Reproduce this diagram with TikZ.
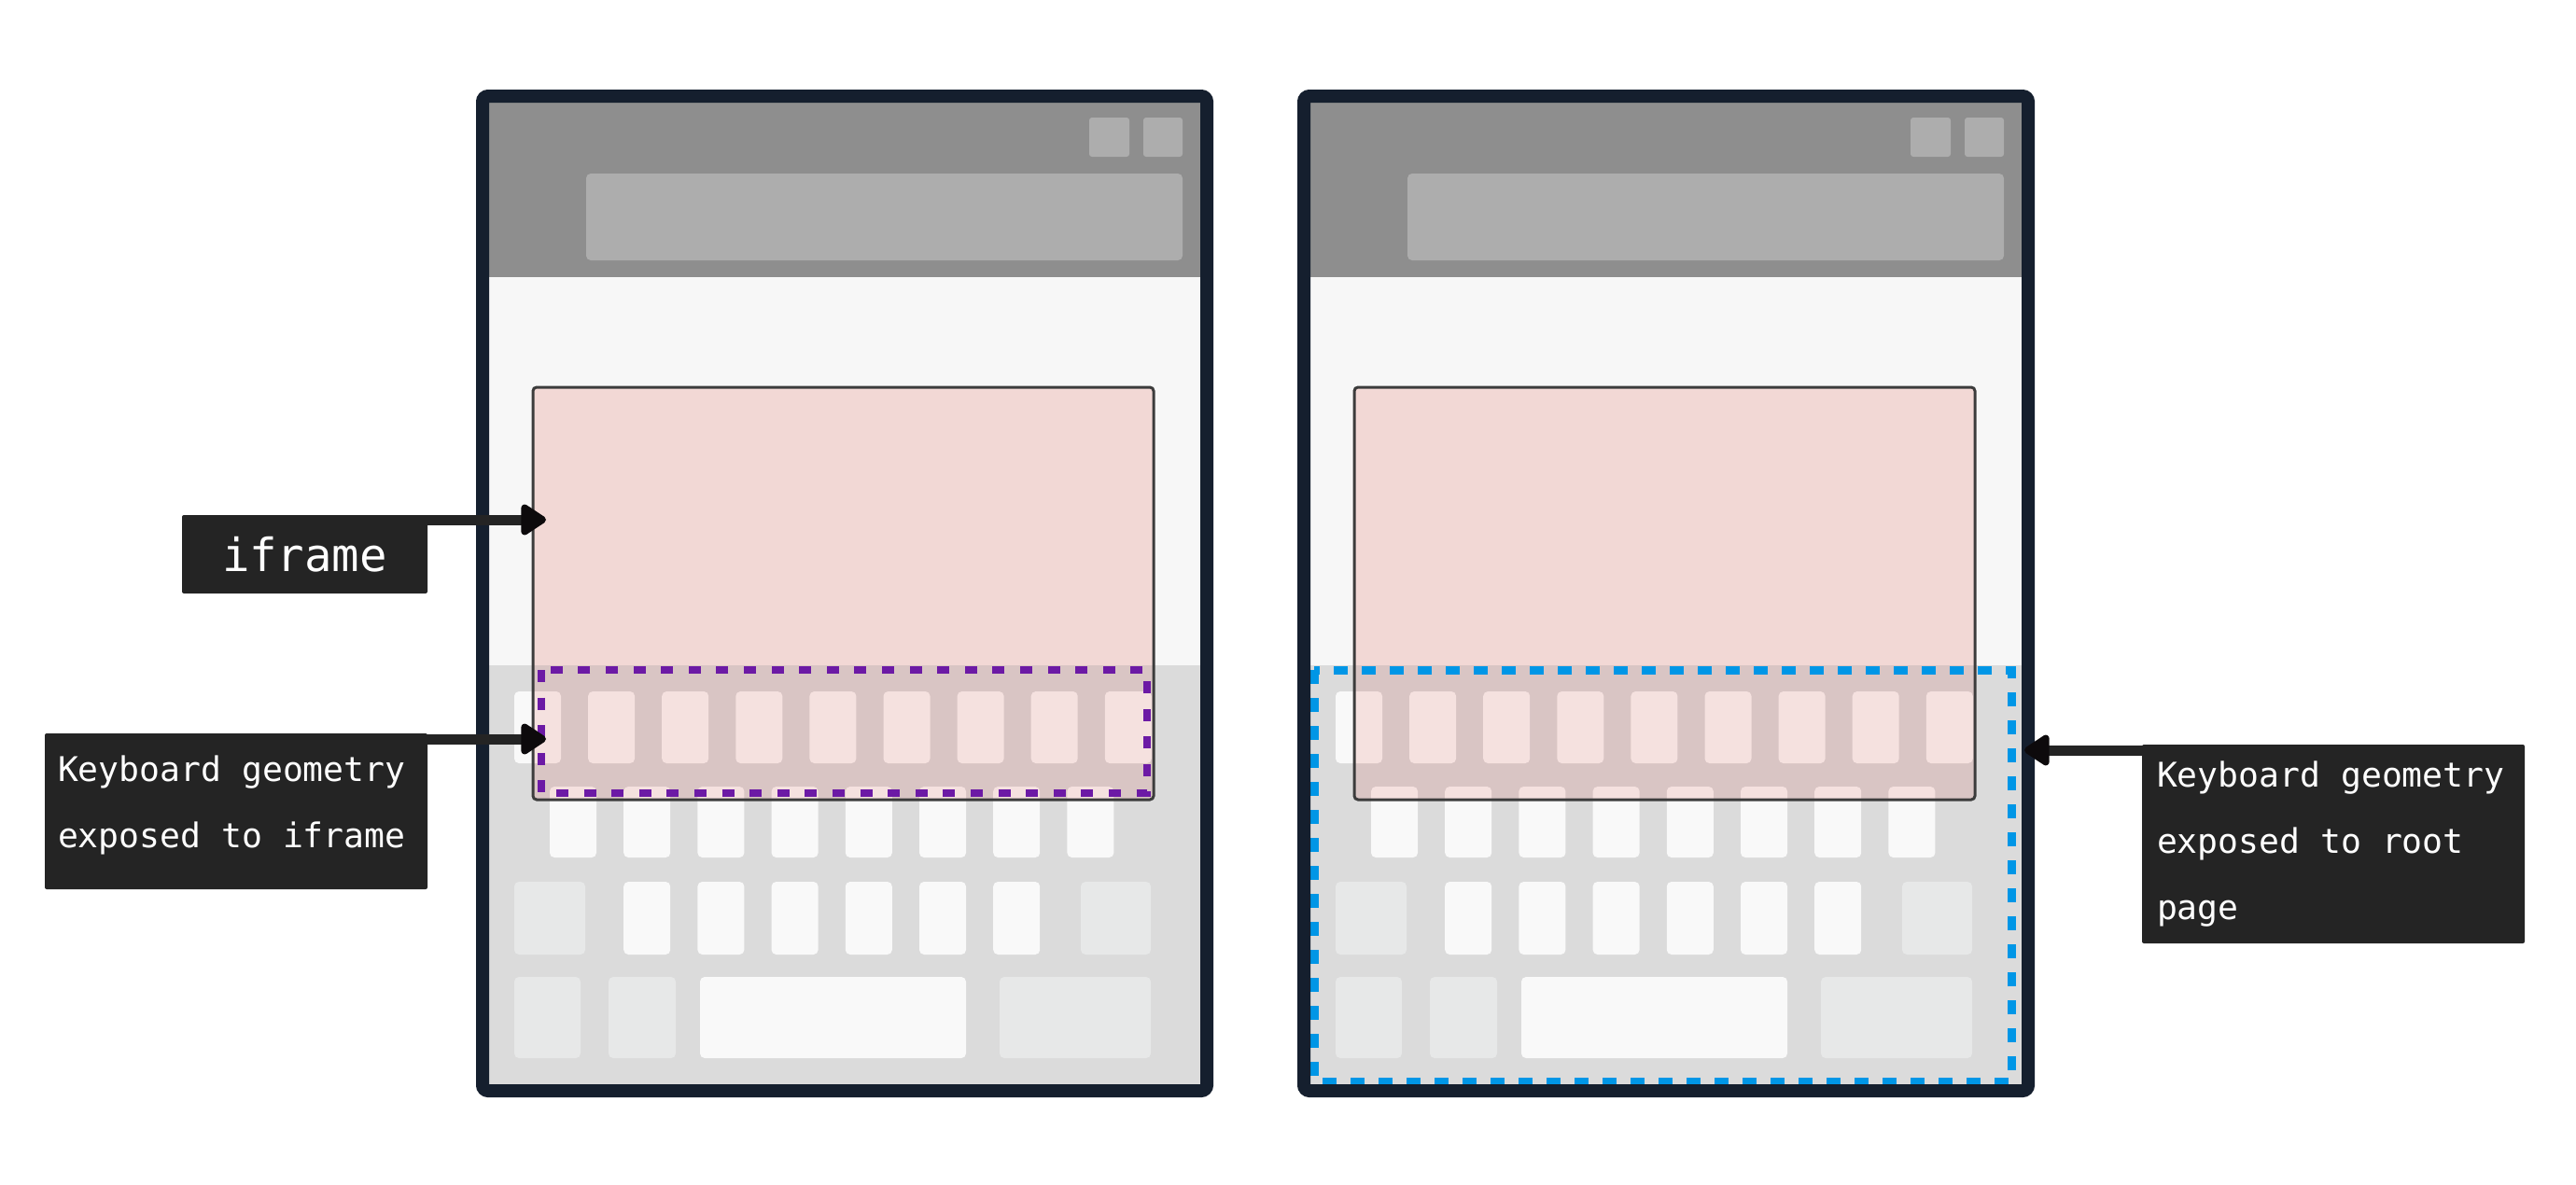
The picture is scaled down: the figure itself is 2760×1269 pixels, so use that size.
\documentclass[tikz,border=0pt]{standalone}
\usepackage{fontspec}
\newfontfamily\tagfont{DejaVu Sans Mono}
\usetikzlibrary{arrows.meta}

\definecolor{framec}{RGB}{21,31,46}
\definecolor{topbarc}{RGB}{142,142,142}
\definecolor{btnc}{RGB}{173,173,173}
\definecolor{pagec}{RGB}{247,247,247}
\definecolor{kbdc}{RGB}{219,219,219}
\definecolor{keywc}{RGB}{249,249,249}
\definecolor{keygc}{RGB}{231,232,232}
\definecolor{pinkc}{RGB}{242,216,213}
\definecolor{ovbgc}{RGB}{217,197,196}
\definecolor{ovkeyc}{RGB}{245,225,223}
\definecolor{iborderc}{RGB}{60,60,60}
\definecolor{purplec}{RGB}{108,26,165}
\definecolor{bluec}{RGB}{0,150,230}
\definecolor{tagc}{RGB}{36,36,36}
\definecolor{tipc}{RGB}{13,10,12}

\begin{document}
\begin{tikzpicture}[x=0.5pt,y=-0.5pt,
  wkey/.style={fill=keywc,rounded corners=2.5pt},
  gkey/.style={fill=keygc,rounded corners=2.5pt},
  okey/.style={fill=ovkeyc,rounded corners=2.5pt},
  iframebox/.style={draw=iborderc,line width=1.5pt,rounded corners=2pt,
    minimum width=332.5pt,minimum height=221pt,inner sep=0pt,outer sep=0pt},
  phoneframe/.style={draw=framec,line width=7pt,rounded corners=3pt},
  tagbox/.style={fill=tagc,text=white,rounded corners=1pt,inner ysep=0pt,
    outer sep=0pt,font=\tagfont},
  pointer/.style={draw=tagc,line width=5.5pt,
    -{Triangle[length=15pt,width=18.5pt,round,color=tipc]}}]

\useasboundingbox (0,0) rectangle (2760,1269);
\fill[white] (0,0) rectangle (2760,1269);

\foreach \ph/\ox in {L/0,R/880}{
  % browser chrome
  \fill[topbarc] (524+\ox,108) rectangle (1286+\ox,297);
  \fill[btnc,rounded corners=1.5pt] (1167+\ox,126) rectangle (1210+\ox,168);
  \fill[btnc,rounded corners=1.5pt] (1225+\ox,126) rectangle (1267+\ox,168);
  \fill[btnc,rounded corners=2.5pt] (628+\ox,186) rectangle (1267+\ox,279);
  % page and keyboard
  \fill[pagec] (524+\ox,297) rectangle (1286+\ox,713);
  \fill[kbdc] (524+\ox,713) rectangle (1286+\ox,1162);
  \foreach \i in {0,...,8}
    \fill[wkey] ({551+79.1*\i+\ox},741) rectangle ++(50,77);
  \foreach \i in {0,...,7}
    \fill[wkey] ({589+79.2*\i+\ox},843) rectangle ++(50,76);
  \fill[gkey] (551+\ox,945) rectangle (627+\ox,1023);
  \foreach \i in {1,...,6}
    \fill[wkey] ({589+79.2*\i+\ox},945) rectangle ++(50,78);
  \fill[gkey] (1158+\ox,945) rectangle (1233+\ox,1023);
  \fill[gkey] (551+\ox,1047) rectangle (622+\ox,1134);
  \fill[gkey] (652+\ox,1047) rectangle (724+\ox,1134);
  \fill[wkey] (750+\ox,1047) rectangle (1035+\ox,1134);
  \fill[gkey] (1071+\ox,1047) rectangle (1233+\ox,1134);
  % iframe, tinted where it overlaps the keyboard
  \fill[pinkc] (571+\ox,415) rectangle (1236+\ox,713);
  \begin{scope}
    \clip (571+\ox,713) rectangle (1236+\ox,857);
    \fill[ovbgc] (571+\ox,713) rectangle (1236+\ox,857);
    \foreach \i in {0,...,8}
      \fill[okey] ({551+79.1*\i+\ox},741) rectangle ++(50,77);
    \foreach \i in {0,...,7}
      \fill[okey] ({589+79.2*\i+\ox},843) rectangle ++(50,76);
  \end{scope}
  \node[iframebox] (iframe\ph) at (903.5+\ox,636) {};
}

% keyboard geometry seen by each context
\draw[purplec,line width=4pt,dash pattern=on 6.5pt off 8.3pt]
  (580,718) rectangle (1229,850);
\draw[bluec,line width=4.5pt,dash pattern=on 7.3pt off 7.7pt]
  (1408,718) rectangle (2155,1159);

% device frames
\draw[phoneframe] (517,103) rectangle (1293,1169);
\draw[phoneframe] (1397,103) rectangle (2173,1169);

% labels
\node[tagbox,anchor=north west,inner xsep=0pt,text width=131.5pt,align=center,
  text height=30pt,text depth=12pt,font=\tagfont\fontsize{24.5pt}{30pt}\selectfont]
  (lblIframe) at (195,552) {iframe};
\node[tagbox,anchor=north west,inner xsep=7pt,text width=191pt,align=flush left,
  text height=25.5pt,text depth=58pt,font=\tagfont\fontsize{18.2pt}{35.5pt}\selectfont]
  (lblGeoIframe) at (48,786) {Keyboard geometry\\exposed to iframe};
\node[tagbox,anchor=north west,inner xsep=8pt,text width=189pt,align=flush left,
  text height=22.5pt,text depth=84pt,font=\tagfont\fontsize{18.2pt}{35.5pt}\selectfont]
  (lblGeoRoot) at (2295,798) {Keyboard geometry\\exposed to root\\page};

% pointers
\coordinate (tipIframe) at (585,557);
\coordinate (tipGeoIframe) at (585,792);
\coordinate (tipGeoRoot) at (2169,804);
\draw[pointer] (lblIframe.center |- tipIframe) -- (tipIframe);
\draw[pointer] (lblGeoIframe.center |- tipGeoIframe) -- (tipGeoIframe);
\draw[pointer] (lblGeoRoot.center |- tipGeoRoot) -- (tipGeoRoot);
\end{tikzpicture}
\end{document}
